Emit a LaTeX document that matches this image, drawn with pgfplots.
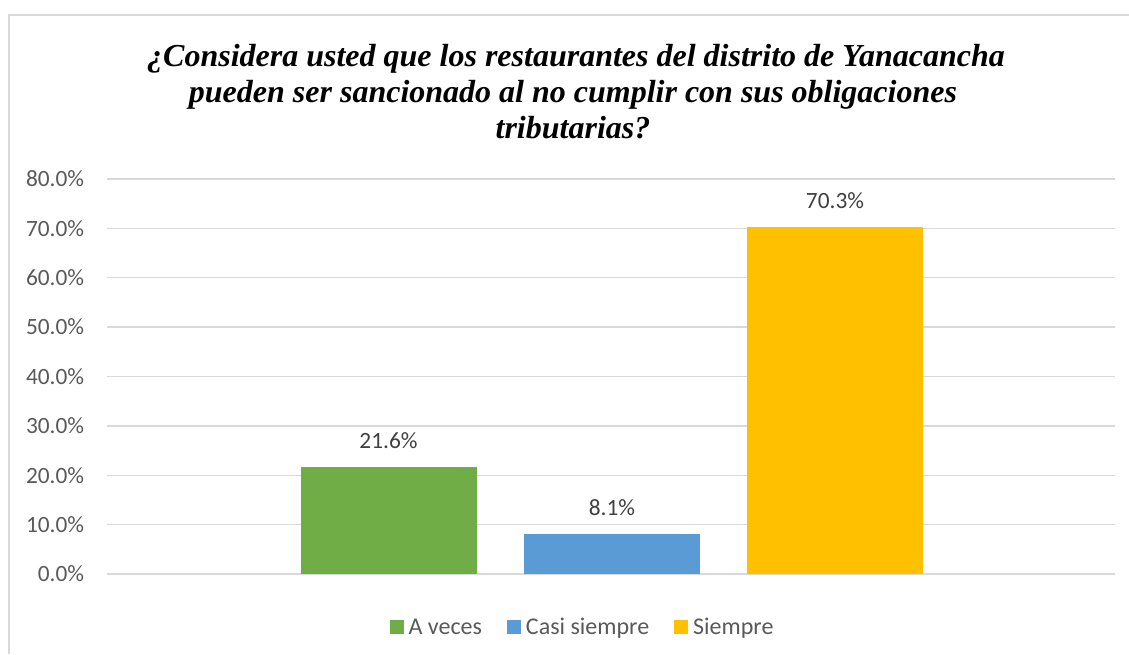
\documentclass[border=0pt]{standalone}
\usepackage{pgfplots}
\pgfplotsset{compat=1.18}
\usepackage{fontspec}
\setmainfont{Carlito}
\newfontfamily\titlefont{Liberation Serif}
\definecolor{greenc}{HTML}{70AD47}
\definecolor{bluec}{HTML}{5B9BD5}
\definecolor{goldc}{HTML}{FFC000}
\definecolor{gridc}{HTML}{D9D9D9}
\definecolor{tickc}{HTML}{595959}
\definecolor{labc}{HTML}{404040}
\begin{document}
\begin{tikzpicture}
\useasboundingbox (0,0) rectangle (846.75pt,490.5pt);
% outer frame (left and top edges visible)
\draw[gridc, line width=1pt] (6.75pt,0pt) -- (6.75pt,479.25pt) -- (846.75pt,479.25pt);
% title
\begin{scope}[every node/.style={anchor=base, inner sep=0pt, font=\titlefont\bfseries\itshape\fontsize{24}{28}\selectfont}]
\node at (432pt,440.25pt) {¿Considera usted que los restaurantes del distrito de Yanacancha};
\node at (429.75pt,413.25pt) {pueden ser sancionado al no cumplir con sus obligaciones};
\node at (429.75pt,386.25pt) {tributarias?};
\end{scope}
\begin{axis}[
  at={(80.25pt,60pt)}, anchor=south west,
  scale only axis, width=756pt, height=296.25pt,
  xmin=107, xmax=1115, ymin=0, ymax=80,
  ybar, bar width=176,
  axis line style={draw=none},
  major tick length=0pt,
  xtick=\empty,
  ytick={0,10,...,80},
  ymajorgrids,
  grid style={gridc, line width=1pt},
  /pgf/number format/assume math mode=true,
  yticklabel={\pgfmathprintnumber[fixed,fixed zerofill,precision=1]{\tick}\%},
  yticklabel style={font=\fontsize{17.5}{20}\selectfont, text=tickc, inner sep=0pt, xshift=-17pt},
  nodes near coords={\pgfmathprintnumber[fixed,fixed zerofill,precision=1]{\pgfplotspointmeta}\%},
  nodes near coords style={font=\fontsize{17.5}{20}\selectfont, text=labc, anchor=south, inner sep=0pt, yshift=13.5pt},
  legend columns=3,
  legend style={at={(rel axis cs:0.4708,-0.135)}, anchor=center, draw=none, fill=none,
    font=\fontsize{18}{20}\selectfont, text=tickc, inner sep=0pt,
    nodes={inner sep=0pt},
    /tikz/every odd column/.append style={column sep=3.75pt},
    /tikz/every even column/.append style={column sep=18.75pt}},
]
\addplot[fill=greenc, draw=none, bar shift=0pt,
  legend image code/.code={\fill[greenc] (0pt,-5.25pt) rectangle (10.5pt,5.25pt);}]
  coordinates {(388.5,21.6)};
\addlegendentry{A veces}
\addplot[fill=bluec, draw=none, bar shift=0pt,
  legend image code/.code={\fill[bluec] (0pt,-5.25pt) rectangle (10.5pt,5.25pt);}]
  coordinates {(612,8.1)};
\addlegendentry{Casi siempre}
\addplot[fill=goldc, draw=none, bar shift=0pt,
  legend image code/.code={\fill[goldc] (0pt,-5.25pt) rectangle (10.5pt,5.25pt);}]
  coordinates {(835,70.3)};
\addlegendentry{Siempre}
\end{axis}
\end{tikzpicture}
\end{document}
